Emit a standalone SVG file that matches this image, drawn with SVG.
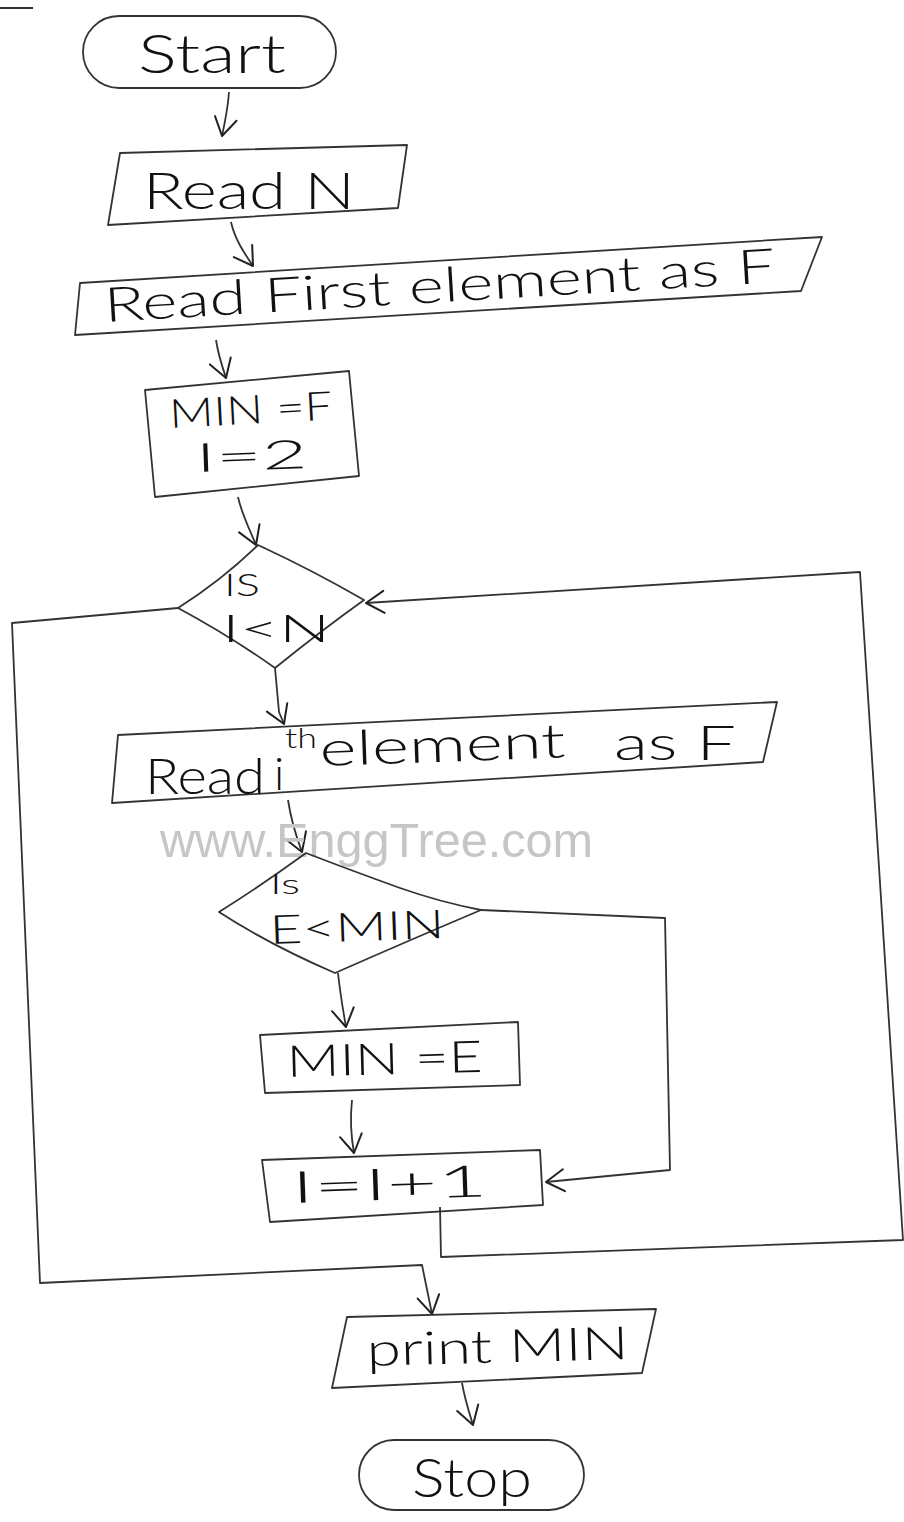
<svg xmlns="http://www.w3.org/2000/svg" width="904" height="1522" viewBox="0 0 904 1522">
  <defs>
    <style>
      .box { fill: none; stroke: #333; stroke-width: 1.8; stroke-linejoin: round; }
      .wire { fill: none; stroke: #333; stroke-width: 1.8; stroke-linejoin: round; }
      .hand { font-family: Lato, "Open Sans", "Liberation Sans", sans-serif; font-weight: 300; fill: #111; }
      .mark { font-family: "Liberation Sans", Arial, sans-serif; fill: #c6c6c6; }
    </style>
    <marker id="vhead" viewBox="-20 -14 24 28" markerWidth="24" markerHeight="28" refX="0" refY="0" orient="auto" markerUnits="userSpaceOnUse">
      <path d="M-18,-11 L0,0 L-18,11" fill="none" stroke="#222" stroke-width="2" stroke-linecap="round" stroke-linejoin="round"/>
    </marker>
  </defs>

  <rect width="904" height="1522" fill="#ffffff"/>

  <!-- short rule at the top margin -->
  <line x1="0" y1="8" x2="33" y2="8" stroke="#333" stroke-width="1.8"/>

  <!-- connectors -->
  <g id="connectors">
    <path class="wire" d="M229,92 C228,108 225,122 222,136" marker-end="url(#vhead)"/>
    <path class="wire" d="M231,222 C235,240 245,254 253,266" marker-end="url(#vhead)"/>
    <path class="wire" d="M216,340 C218,354 222,366 226,378" marker-end="url(#vhead)"/>
    <path class="wire" d="M238,497 C242,515 250,530 256,545" marker-end="url(#vhead)"/>
    <path class="wire" d="M275,668 L279,712 L284,724" marker-end="url(#vhead)"/>
    <path class="wire" d="M288,800 C291,820 296,836 302,852" marker-end="url(#vhead)"/>
    <path class="wire" d="M338,973 C340,992 343,1010 346,1027" marker-end="url(#vhead)"/>
    <path class="wire" d="M352,1100 C350,1118 351,1136 354,1153" marker-end="url(#vhead)"/>
    <!-- no branch of E<MIN, straight on to I=I+1 -->
    <path class="wire" d="M481,910 L665,918 L670,1170 L546,1182" marker-end="url(#vhead)"/>
    <!-- loop back from I=I+1 to the test I<N -->
    <path class="wire" d="M440,1207 L441,1257 L903,1240 L860,572 L366,603" marker-end="url(#vhead)"/>
    <!-- exit of the loop to print MIN -->
    <path class="wire" d="M178,608 L12,623 L40,1283 L422,1265 L432,1314" marker-end="url(#vhead)"/>
    <path class="wire" d="M462,1383 C465,1400 469,1412 473,1425" marker-end="url(#vhead)"/>
  </g>

  <g id="start">
    <rect class="box" x="83" y="16" width="253" height="72" rx="36"/>
    <text class="hand" x="138" y="73" font-size="54" textLength="148" lengthAdjust="spacingAndGlyphs">Start</text>
  </g>

  <g id="read-n">
    <path class="box" d="M120,153 L407,145 L398,208 L108,225 Z"/>
    <text class="hand" x="143" y="209" font-size="52" textLength="212" lengthAdjust="spacingAndGlyphs">Read N</text>
  </g>

  <g id="read-first">
    <path class="box" d="M80,283 L822,237 L801,291 L75,335 Z"/>
    <text class="hand" x="105" y="322" font-size="48" textLength="672" lengthAdjust="spacingAndGlyphs" transform="rotate(-3.4 105 322)">Read First element as F</text>
  </g>

  <g id="init">
    <path class="box" d="M145,390 L349,371 L359,476 L155,497 Z"/>
    <text class="hand" x="170" y="428" font-size="40" textLength="163" lengthAdjust="spacingAndGlyphs" transform="rotate(-3 170 428)">MIN =F</text>
    <text class="hand" x="196" y="472" font-size="40" textLength="112" lengthAdjust="spacingAndGlyphs" transform="rotate(-2 196 472)">I=2</text>
  </g>

  <g id="test-i">
    <path class="box" d="M258,545 Q312,570 364,600 Q322,630 275,668 Q230,636 178,608 Q222,580 258,545 Z"/>
    <text class="hand" x="224" y="596" font-size="32" textLength="36" lengthAdjust="spacingAndGlyphs">IS</text>
    <text class="hand" x="222" y="642" font-size="38" textLength="108" lengthAdjust="spacingAndGlyphs">I&lt;N</text>
  </g>

  <g id="read-ith">
    <path class="box" d="M118,735 L777,702 L763,762 L112,803 Z"/>
    <text class="hand" x="145" y="794" font-size="50" textLength="120" lengthAdjust="spacingAndGlyphs">Read</text>
    <text class="hand" x="274" y="790" font-size="46">i</text>
    <text class="hand" x="285" y="748" font-size="28" textLength="32" lengthAdjust="spacingAndGlyphs">th</text>
    <text class="hand" x="320" y="766" font-size="48" textLength="246" lengthAdjust="spacingAndGlyphs" transform="rotate(-2 320 766)">element</text>
    <text class="hand" x="614" y="760" font-size="48" textLength="122" lengthAdjust="spacingAndGlyphs">as F</text>
  </g>

  <text class="mark" x="160" y="857" font-size="48" textLength="433" lengthAdjust="spacingAndGlyphs">www.EnggTree.com</text>

  <g id="test-e">
    <path class="box" d="M306,853 Q350,870 400,888 Q440,902 481,910 Q410,940 335,973 Q270,945 219,912 Q262,885 306,853 Z"/>
    <text class="hand" x="270" y="894" font-size="28" textLength="30" lengthAdjust="spacingAndGlyphs">Is</text>
    <text class="hand" x="270" y="944" font-size="40" textLength="175" lengthAdjust="spacingAndGlyphs" transform="rotate(-2 270 944)">E&lt;MIN</text>
  </g>

  <g id="set-min">
    <path class="box" d="M260,1035 L518,1022 L520,1085 L265,1093 Z"/>
    <text class="hand" x="287" y="1077" font-size="44" textLength="196" lengthAdjust="spacingAndGlyphs" transform="rotate(-1.5 287 1077)">MIN =E</text>
  </g>

  <g id="increment">
    <path class="box" d="M262,1160 L540,1150 L543,1205 L270,1222 Z"/>
    <text class="hand" x="292" y="1203" font-size="44" textLength="196" lengthAdjust="spacingAndGlyphs" transform="rotate(-2 292 1203)">I=I+1</text>
  </g>

  <g id="print-min">
    <path class="box" d="M347,1317 L656,1309 L642,1373 L332,1388 Z"/>
    <text class="hand" x="367" y="1366" font-size="46" textLength="262" lengthAdjust="spacingAndGlyphs" transform="rotate(-1.5 367 1366)">print MIN</text>
  </g>

  <g id="stop">
    <rect class="box" x="359" y="1440" width="225" height="70" rx="35"/>
    <text class="hand" x="412" y="1497" font-size="54" textLength="120" lengthAdjust="spacingAndGlyphs">Stop</text>
  </g>
</svg>
